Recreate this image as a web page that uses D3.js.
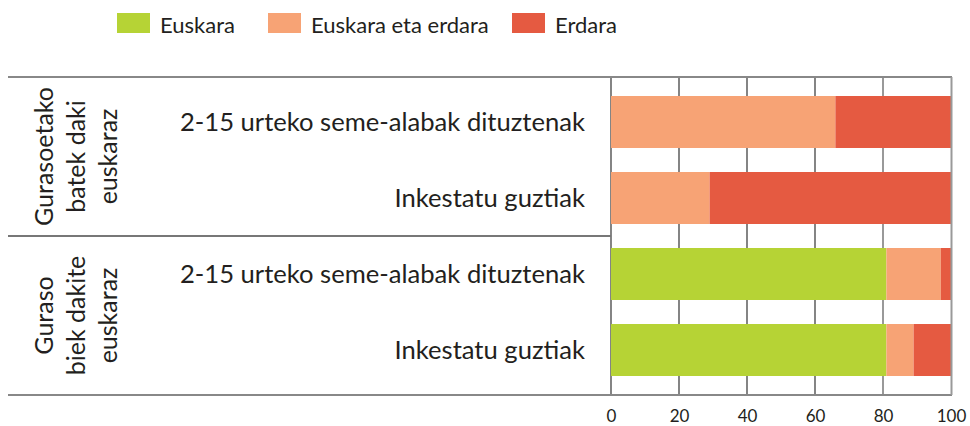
<!DOCTYPE html>
<html>
<head>
<meta charset="utf-8">
<script src="https://cdn.jsdelivr.net/npm/d3@7"></script>
<style>
  body { margin: 0; background: #fff; }
  text { font-family: Lato, "Noto Sans", sans-serif; fill: #231f20; }
</style>
</head>
<body>
<svg id="chart" width="970" height="426"></svg>
<script>
// data
var series = ['Euskara', 'Euskara eta erdara', 'Erdara'];
var colors = ['#b6d335', '#f7a375', '#e55a41'];
var rows = ['a1', 'a2', 'b1', 'b2'];
var rowLabels = ['2-15 urteko seme-alabak dituztenak', 'Inkestatu guztiak',
                 '2-15 urteko seme-alabak dituztenak', 'Inkestatu guztiak'];
var euskara = [0, 0, 81, 81];
var biak = [66, 29, 16, 8];
var erdara = [34, 71, 3, 11];
var groups = [['Gurasoetako', 'batek daki', 'euskaraz'], ['Guraso', 'biek dakite', 'euskaraz']];
var ticks = [0, 20, 40, 60, 80, 100];

var svg = d3.select('#chart');
var plotTop = 77, plotBottom = 395, plotLeft = 611, plotRight = 951;

var x = d3.scaleLinear().domain([0, 100]).range([plotLeft, plotRight]);
var y = d3.scaleBand().domain(rows).range([plotTop, plotBottom]).paddingInner(0.316).paddingOuter(0.25);

var table = rows.map(function(r, i) {
    return {row: r, Euskara: euskara[i], 'Euskara eta erdara': biak[i], Erdara: erdara[i]};
});
var stacked = d3.stack().keys(series)(table);

// grid lines (behind bars)
svg.append('g').selectAll('line').data(ticks.slice(0, -1)).enter().append('line')
    .attr('x1', function(d) { return x(d); })
    .attr('x2', function(d) { return x(d); })
    .attr('y1', plotTop).attr('y2', plotBottom)
    .attr('stroke', function(d) { return d === 80 ? '#555' : '#333'; })
    .attr('stroke-width', 1.2);

// bars
svg.append('g').selectAll('g').data(stacked).enter().append('g')
    .attr('fill', function(d, i) { return colors[i]; })
    .selectAll('rect').data(function(d) { return d; }).enter().append('rect')
    .attr('x', function(d) { return x(d[0]); })
    .attr('width', function(d) { return x(d[1]) - x(d[0]); })
    .attr('y', function(d) { return y(d.data.row); })
    .attr('height', y.bandwidth());

// frame lines
var mid = (y('a2') + y.bandwidth() + y('b1')) / 2;
svg.append('line').attr('x1', 8).attr('x2', plotRight + 1).attr('y1', plotTop).attr('y2', plotTop)
    .attr('stroke', '#888').attr('stroke-width', 2);
svg.append('line').attr('x1', 8).attr('x2', plotRight + 1).attr('y1', plotBottom).attr('y2', plotBottom)
    .attr('stroke', '#888').attr('stroke-width', 2);
svg.append('line').attr('x1', 8).attr('x2', plotLeft).attr('y1', mid).attr('y2', mid)
    .attr('stroke', '#777').attr('stroke-width', 2);
svg.append('line').attr('x1', plotRight + 0.5).attr('x2', plotRight + 0.5).attr('y1', plotTop).attr('y2', plotBottom)
    .attr('stroke', '#999').attr('stroke-width', 2);

// x axis labels
var xAxis = d3.axisBottom(x).tickValues(ticks).tickSize(0).tickPadding(0);
var ax = svg.append('g').attr('transform', 'translate(0,' + (plotBottom + 15) + ')').call(xAxis);
ax.select('.domain').remove();
ax.selectAll('text').style('font-size', '17px').style('font-family', 'Lato, sans-serif')
    .attr('fill', '#231f20').attr('dy', '0.71em');

// row labels
svg.append('g').selectAll('text').data(rows).enter().append('text')
    .attr('x', 585)
    .attr('y', function(d) { return y(d) + y.bandwidth() / 2; })
    .attr('dy', '0.35em')
    .attr('text-anchor', 'end')
    .style('font-size', '25.6px')
    .text(function(d, i) { return rowLabels[i]; });

// group labels, rotated
var groupCenters = [(plotTop + mid) / 2, (mid + plotBottom) / 2];
groups.forEach(function(lines, gi) {
    var t = svg.append('text')
        .attr('transform', 'translate(0,' + groupCenters[gi] + ') rotate(-90)')
        .attr('text-anchor', 'middle')
        .style('font-size', '25px');
    lines.forEach(function(l, li) {
        t.append('tspan').attr('x', 0).attr('y', 53 + li * 32).text(l);
    });
});

// legend
var legX = [117, 268, 512];
var leg = svg.append('g').selectAll('g').data(series).enter().append('g')
    .attr('transform', function(d, i) { return 'translate(' + legX[i] + ',13)'; });
leg.append('rect').attr('width', 33).attr('height', 20)
    .attr('fill', function(d, i) { return colors[i]; });
leg.append('text').attr('x', 43).attr('y', 20).style('font-size', '22px')
    .text(function(d) { return d; });
</script>
</body>
</html>
